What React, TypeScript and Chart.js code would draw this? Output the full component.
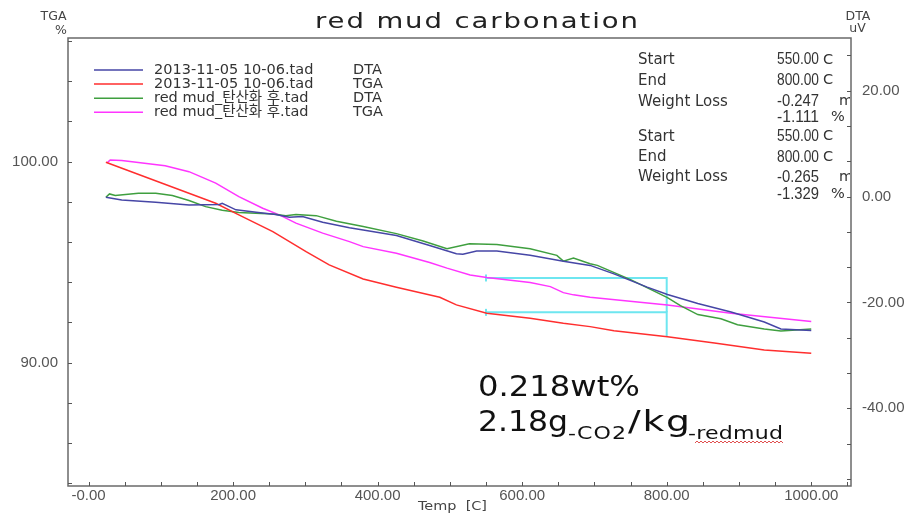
import React, { useEffect, useRef } from 'react';
import { Chart, registerables } from 'chart.js';

Chart.register(...registerables);

// ---- data ----
const tempDta2013 = [24, 46, 93, 139, 181, 185, 204, 232, 259, 278, 296, 324, 361, 380, 426, 472, 509, 518, 537, 565, 611, 657, 694, 727, 773, 801, 843, 889, 935, 958, 1000];
const dta2013 = [-0.13, -0.63, -1.07, -1.57, -1.5, -1.26, -2.5, -2.96, -3.4, -3.9, -3.77, -4.85, -5.9, -6.3, -7.36, -9.25, -10.8, -10.9, -10.3, -10.3, -11.1, -12.2, -13.0, -14.6, -17.1, -18.5, -20.2, -21.8, -23.7, -25.0, -25.3];

const tempTga2013 = [24, 100, 176, 208, 255, 301, 333, 380, 426, 486, 509, 551, 611, 657, 694, 727, 801, 866, 935, 1000];
const tga2013 = [99.97, 98.95, 97.93, 97.35, 96.52, 95.52, 94.86, 94.16, 93.75, 93.25, 92.87, 92.46, 92.21, 91.96, 91.79, 91.59, 91.29, 90.97, 90.63, 90.47];

const tempDtaCarb = [24, 29, 37, 69, 93, 116, 139, 162, 185, 208, 255, 273, 287, 315, 343, 380, 426, 463, 496, 527, 565, 611, 648, 657, 671, 694, 704, 750, 801, 819, 843, 875, 898, 935, 958, 1000];
const dtaCarb = [-0.13, 0.5, 0.19, 0.63, 0.63, 0.19, -0.75, -1.9, -2.6, -3.0, -3.27, -3.6, -3.4, -3.6, -4.65, -5.66, -7.0, -8.4, -9.87, -8.93, -9.06, -9.87, -11.1, -12.2, -11.6, -12.7, -13.0, -15.7, -19.1, -20.6, -22.3, -23.1, -24.2, -25.0, -25.4, -25.0];

const tempTgaCarb = [26, 30, 46, 106, 139, 176, 208, 241, 264, 287, 324, 361, 380, 426, 472, 496, 528, 551, 611, 639, 657, 671, 694, 801, 889, 1000];
const tgaCarb = [99.95, 100.08, 100.05, 99.79, 99.5, 98.93, 98.26, 97.68, 97.35, 96.94, 96.44, 96.02, 95.77, 95.44, 94.98, 94.7, 94.36, 94.23, 93.98, 93.78, 93.48, 93.37, 93.25, 92.87, 92.46, 92.04];

const stepTemps = [550, 800, 800];
const stepTgaCarb = [94.21, 94.21, 92.5];
const stepTga2013 = [92.5, 92.5, 91.3];

const seriesFiles = ['2013-11-05 10-06.tad', '2013-11-05 10-06.tad', 'red mud_탄산화 후.tad', 'red mud_탄산화 후.tad'];
const seriesKinds = ['DTA', 'TGA', 'DTA', 'TGA'];

const xMajorTicks = [0, 200, 400, 600, 800, 1000];
const xMajorLabels = ['-0.00', '200.00', '400.00', '600.00', '800.00', '1000.00'];
const tgaMajorTicks = [90, 100];
const tgaMajorLabels = ['90.00', '100.00'];
const dtaMajorTicks = [-40, -20, 0, 20];
const dtaMajorLabels = ['-40.00', '-20.00', '0.00', '20.00'];

const infoLabels = ['Start', 'End', 'Weight Loss', '', 'Start', 'End', 'Weight Loss', ''];
const infoValues = ['550.00', '800.00', '-0.247', '-1.111', '550.00', '800.00', '-0.265', '-1.329'];
const infoUnits = ['C', 'C', 'mg', '%', 'C', 'C', 'mg', '%'];

const titleText = 'red mud carbonation';
const noteLine1 = '0.218wt%';
const noteLine2 = ['2.18g', '-CO2', '/kg', '-redmud'];

// ---- helpers ----
const pts = (xs: number[], ys: number[]) => xs.map((x, i) => ({ x, y: ys[i] }));
const FONT = "'DejaVu Sans', 'Noto Sans CJK KR', sans-serif";
const NUMFONT = "'Liberation Sans', Arial, sans-serif";

// draw text starting at x so that it spans `width`: widen glyphs first, then spacing
function fitText(ctx: CanvasRenderingContext2D, text: string, x: number, y: number, width: number, maxScale = 1.3) {
  (ctx as any).letterSpacing = '0px';
  const w = ctx.measureText(text).width;
  const sx = Math.min(maxScale, width / w);
  const n = Array.from(text).length;
  const rem = width - w * sx;
  const ls = n > 1 && rem > 0 ? rem / sx / (n - 1) : 0;
  ctx.save();
  ctx.translate(x, y);
  ctx.scale(sx, 1);
  (ctx as any).letterSpacing = ls + 'px';
  ctx.textAlign = 'left';
  ctx.fillText(text, 0, 0);
  ctx.restore();
  (ctx as any).letterSpacing = '0px';
}

function labelFor(value: number, majors: number[], labels: string[]) {
  const i = majors.findIndex((m) => Math.abs(m - value) < 1e-6);
  return i >= 0 ? labels[i] : '';
}

const COLORS = ['#4646a6', '#ff2e2e', '#3f9f3f', '#ff35ff'];
const CYAN = '#6ee6f0';

const overlayPlugin = {
  id: 'overlay',
  afterDraw(chart: any) {
    const ctx: CanvasRenderingContext2D = chart.ctx;
    const a = chart.chartArea;
    ctx.save();

    // frame
    ctx.strokeStyle = '#6a6a6a';
    ctx.lineWidth = 1.5;
    ctx.strokeRect(a.left, a.top, a.right - a.left, a.bottom - a.top);

    // inward tick marks
    ctx.lineWidth = 1;
    ctx.strokeStyle = '#555';
    const tl = 4;
    chart.scales.x.ticks.forEach((t: any) => {
      const px = Math.round(chart.scales.x.getPixelForValue(t.value)) + 0.5;
      ctx.beginPath();
      ctx.moveTo(px, a.bottom);
      ctx.lineTo(px, a.bottom - tl);
      ctx.stroke();
    });
    chart.scales.yL.ticks.forEach((t: any) => {
      const py = Math.round(chart.scales.yL.getPixelForValue(t.value)) + 0.5;
      ctx.beginPath();
      ctx.moveTo(a.left, py);
      ctx.lineTo(a.left + tl, py);
      ctx.stroke();
    });
    chart.scales.yR.ticks.forEach((t: any) => {
      const py = Math.round(chart.scales.yR.getPixelForValue(t.value)) + 0.5;
      ctx.beginPath();
      ctx.moveTo(a.right, py);
      ctx.lineTo(a.right - tl, py);
      ctx.stroke();
    });

    // title
    ctx.fillStyle = '#222';
    ctx.textBaseline = 'alphabetic';
    ctx.font = `22px ${FONT}`;
    fitText(ctx, titleText, 315, 28, 323, 1.25);

    // axis titles
    ctx.fillStyle = '#444';
    ctx.font = `12.5px ${FONT}`;
    ctx.textBaseline = 'middle';
    ctx.textAlign = 'center';
    ctx.fillText('TGA', 53.5, 17);
    ctx.fillText('%', 61, 31);
    ctx.fillText('DTA', 858, 17);
    ctx.fillText('uV', 857.5, 29);
    ctx.font = `13px ${FONT}`;
    fitText(ctx, 'Temp  [C]', 418, 507, 69);

    // legend
    const rowsY = [70, 84, 98.3, 112.3];
    ctx.font = `14.5px ${FONT}`;
    ctx.textBaseline = 'middle';
    for (let i = 0; i < 4; i++) {
      ctx.strokeStyle = COLORS[i];
      ctx.lineWidth = 1.5;
      ctx.beginPath();
      ctx.moveTo(94, rowsY[i]);
      ctx.lineTo(143, rowsY[i]);
      ctx.stroke();
      ctx.fillStyle = '#333';
      ctx.textAlign = 'left';
      ctx.fillText(seriesFiles[i], 154, rowsY[i]);
      ctx.fillText(seriesKinds[i], 353, rowsY[i]);
    }

    // info box (clipped at the right axis)
    ctx.save();
    ctx.beginPath();
    ctx.rect(a.left, a.top, a.right - a.left - 1, a.bottom - a.top);
    ctx.clip();
    const infoY = [60, 80.7, 101.7, 117.5, 136.7, 157.3, 177.3, 194.5];
    const unitX: Record<string, number> = { C: 823, mg: 839, '%': 831 };
    ctx.fillStyle = '#333';
    ctx.textBaseline = 'middle';
    for (let i = 0; i < infoY.length; i++) {
      if (infoLabels[i]) {
        ctx.font = `15px ${FONT}`;
        ctx.textAlign = 'left';
        ctx.fillText(infoLabels[i], 638, infoY[i]);
      }
      ctx.font = `16px ${NUMFONT}`;
      fitText(ctx, infoValues[i], 777, infoY[i], 42);
      ctx.textAlign = 'left';
      ctx.font = `14.5px ${FONT}`;
      ctx.fillText(infoUnits[i], unitX[infoUnits[i]], infoY[i]);
    }
    ctx.restore();

    // annotation
    ctx.fillStyle = '#111';
    ctx.textBaseline = 'alphabetic';
    ctx.font = `29px ${FONT}`;
    fitText(ctx, noteLine1, 478, 396, 162);
    fitText(ctx, noteLine2[0], 478, 431, 90);
    fitText(ctx, noteLine2[2], 628, 431, 62);
    ctx.font = `17px ${FONT}`;
    fitText(ctx, noteLine2[1], 568, 439, 58);
    fitText(ctx, noteLine2[3], 688, 439, 95);

    // spell-check wavy underline
    ctx.strokeStyle = '#e05050';
    ctx.lineWidth = 1;
    ctx.beginPath();
    let up = true;
    ctx.moveTo(695, 443);
    for (let x = 697; x <= 783; x += 2) {
      ctx.lineTo(x, up ? 441 : 443);
      up = !up;
    }
    ctx.stroke();

    ctx.restore();
  },
};

export default function App() {
  const ref = useRef<HTMLCanvasElement | null>(null);

  useEffect(() => {
    if (!ref.current) return;
    const tickFont = { family: NUMFONT, size: 15 };
    const chart = new Chart(ref.current, {
      type: 'line',
      data: {
        datasets: [
          { label: seriesFiles[0] + ' ' + seriesKinds[0], data: pts(tempDta2013, dta2013), yAxisID: 'yR', borderColor: COLORS[0] },
          { label: seriesFiles[1] + ' ' + seriesKinds[1], data: pts(tempTga2013, tga2013), yAxisID: 'yL', borderColor: COLORS[1] },
          { label: seriesFiles[2] + ' ' + seriesKinds[2], data: pts(tempDtaCarb, dtaCarb), yAxisID: 'yR', borderColor: COLORS[2] },
          { label: seriesFiles[3] + ' ' + seriesKinds[3], data: pts(tempTgaCarb, tgaCarb), yAxisID: 'yL', borderColor: COLORS[3] },
          {
            label: 'step carb', data: pts(stepTemps, stepTgaCarb), yAxisID: 'yL', borderColor: CYAN, borderWidth: 2,
            pointRadius: [3.5, 0, 0], pointStyle: 'line', rotation: 90, pointBorderColor: CYAN, pointBorderWidth: 2,
          },
          {
            label: 'step 2013', data: pts(stepTemps, stepTga2013), yAxisID: 'yL', borderColor: CYAN, borderWidth: 2,
            pointRadius: [3.5, 0, 0], pointStyle: 'line', rotation: 90, pointBorderColor: CYAN, pointBorderWidth: 2,
          },
        ] as any,
      },
      options: {
        animation: false,
        responsive: false,
        maintainAspectRatio: false,
        layout: { padding: { top: 38, left: 0, right: 0, bottom: 0 } },
        plugins: { legend: { display: false }, title: { display: false }, tooltip: { enabled: false } },
        elements: { point: { radius: 0 }, line: { borderWidth: 1.5, tension: 0 } },
        scales: {
          x: {
            type: 'linear',
            position: 'bottom',
            min: -28.4,
            max: 1055,
            grid: { display: false, drawTicks: false },
            border: { display: false },
            afterFit: (s: any) => { s.height = 29; },
            afterBuildTicks: (s: any) => {
              const t = [];
              for (let v = 0; v <= 1050; v += 50) t.push({ value: v });
              s.ticks = t;
            },
            ticks: {
              autoSkip: false, maxRotation: 0, padding: 1, color: '#555', font: tickFont,
              callback: (v: any) => labelFor(Number(v), xMajorTicks, xMajorLabels),
            },
          },
          yL: {
            type: 'linear',
            position: 'left',
            min: 83.86,
            max: 106.15,
            grid: { display: false, drawTicks: false },
            border: { display: false },
            afterFit: (s: any) => { s.width = 68; },
            afterBuildTicks: (s: any) => {
              const t = [];
              for (let v = 84; v <= 106; v += 2) t.push({ value: v });
              s.ticks = t;
            },
            ticks: {
              autoSkip: false, padding: 10, color: '#555', font: tickFont,
              callback: (v: any) => labelFor(Number(v), tgaMajorTicks, tgaMajorLabels),
            },
          },
          yR: {
            type: 'linear',
            position: 'right',
            min: -54.68,
            max: 29.96,
            grid: { display: false, drawTicks: false },
            border: { display: false },
            afterFit: (s: any) => { s.width = 60; },
            afterBuildTicks: (s: any) => {
              const t = [];
              for (let k = -8; k <= 4; k++) t.push({ value: (k * 20) / 3 });
              s.ticks = t;
            },
            ticks: {
              autoSkip: false, padding: 11, color: '#555', font: tickFont,
              callback: (v: any) => labelFor(Number(v), dtaMajorTicks, dtaMajorLabels),
            },
          },
        },
      } as any,
      plugins: [overlayPlugin],
    });
    return () => chart.destroy();
  }, []);

  return (
    <div style={{ position: 'absolute', left: 0, top: 0, width: 911, height: 515, background: '#fff' }}>
      <canvas ref={ref} width={911} height={515} style={{ display: 'block', width: 911, height: 515 }} />
    </div>
  );
}
